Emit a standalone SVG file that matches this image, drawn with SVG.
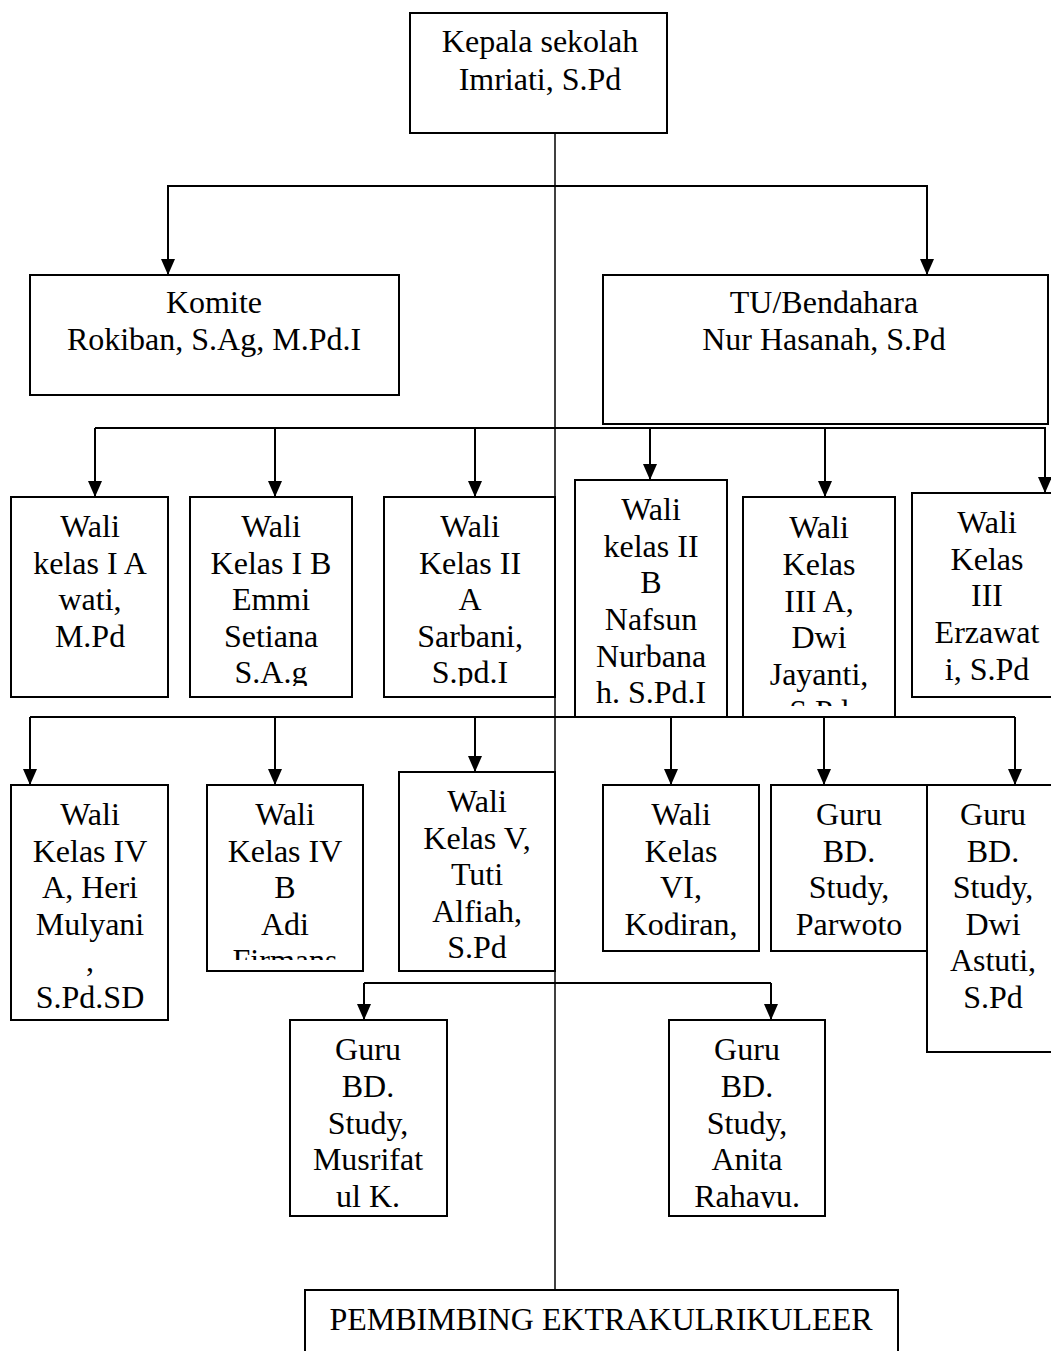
<svg xmlns="http://www.w3.org/2000/svg" width="1051" height="1351" viewBox="0 0 1051 1351">
<style>
.box{fill:#fff;stroke:#000;stroke-width:2}
text{font-family:"Liberation Serif","Times New Roman",serif;font-size:32px;fill:#000;text-anchor:middle}
.c{fill:none;stroke:#000;stroke-width:2}
.a{fill:none;stroke:#000;stroke-width:2;marker-end:url(#ah)}
.m{fill:none;stroke:#000;stroke-width:1.5}
</style>
<defs>
<marker id="ah" viewBox="0 0 16 14" refX="16" refY="7" markerWidth="16" markerHeight="14" markerUnits="userSpaceOnUse" orient="auto"><path d="M0,0 L16,7 L0,14 z" fill="#000"/></marker>
<clipPath id="k12"><rect x="190" y="497" width="162" height="189"/></clipPath>
<clipPath id="k13"><rect x="384" y="497" width="171" height="189"/></clipPath>
<clipPath id="k14"><rect x="575" y="480" width="152" height="226"/></clipPath>
<clipPath id="k15"><rect x="743" y="497" width="152" height="209"/></clipPath>
<clipPath id="k22"><rect x="207" y="785" width="156" height="175"/></clipPath>
<clipPath id="k32"><rect x="669" y="1020" width="156" height="188"/></clipPath>
</defs>
<g id="kepala"><rect class="box" x="410" y="13" width="257" height="120"/><text x="540" y="52">Kepala sekolah</text><text x="540" y="90">Imriati, S.Pd</text></g>
<g id="komite"><rect class="box" x="30" y="275" width="369" height="120"/><text x="214" y="313">Komite</text><text x="214" y="350">Rokiban, S.Ag, M.Pd.I</text></g>
<g id="tu"><rect class="box" x="603" y="275" width="445" height="149"/><text x="824" y="313">TU/Bendahara</text><text x="824" y="350">Nur Hasanah, S.Pd</text></g>
<g id="w1a"><rect class="box" x="11" y="497" width="157" height="200"/><text x="90" y="537">Wali</text><text x="90" y="574">kelas I A</text><text x="90" y="610">wati,</text><text x="90" y="647">M.Pd</text></g>
<g id="w1b"><rect class="box" x="190" y="497" width="162" height="200"/><g clip-path="url(#k12)"><text x="271" y="537">Wali</text><text x="271" y="574">Kelas I B</text><text x="271" y="610">Emmi</text><text x="271" y="647">Setiana</text><text x="271" y="683">S.A.g</text></g></g>
<g id="w2a"><rect class="box" x="384" y="497" width="171" height="200"/><g clip-path="url(#k13)"><text x="470" y="537">Wali</text><text x="470" y="574">Kelas II</text><text x="470" y="610">A</text><text x="470" y="647">Sarbani,</text><text x="470" y="683">S.pd.I</text></g></g>
<g id="w2b"><rect class="box" x="575" y="480" width="152" height="237"/><g clip-path="url(#k14)"><text x="651" y="520">Wali</text><text x="651" y="557">kelas II</text><text x="651" y="593">B</text><text x="651" y="630">Nafsun</text><text x="651" y="667">Nurbana</text><text x="651" y="703">h. S.Pd.I</text></g></g>
<g id="w3a"><rect class="box" x="743" y="497" width="152" height="220"/><g clip-path="url(#k15)"><text x="819" y="538">Wali</text><text x="819" y="575">Kelas</text><text x="819" y="612">III A,</text><text x="819" y="648">Dwi</text><text x="819" y="685">Jayanti,</text><text x="819" y="722">S.Pd</text></g></g>
<g id="w3"><rect class="box" x="912" y="493" width="145" height="204"/><text x="987" y="533">Wali</text><text x="987" y="570">Kelas</text><text x="987" y="606">III</text><text x="987" y="643">Erzawat</text><text x="987" y="680">i, S.Pd</text></g>
<g id="w4a"><rect class="box" x="11" y="785" width="157" height="235"/><text x="90" y="825">Wali</text><text x="90" y="862">Kelas IV</text><text x="90" y="898">A, Heri</text><text x="90" y="935">Mulyani</text><text x="90" y="971">,</text><text x="90" y="1008">S.Pd.SD</text></g>
<g id="w4b"><rect class="box" x="207" y="785" width="156" height="186"/><g clip-path="url(#k22)"><text x="285" y="825">Wali</text><text x="285" y="862">Kelas IV</text><text x="285" y="898">B</text><text x="285" y="935">Adi</text><text x="285" y="971">Firmans</text></g></g>
<g id="w5"><rect class="box" x="399" y="772" width="156" height="199"/><text x="477" y="812">Wali</text><text x="477" y="849">Kelas V,</text><text x="477" y="885">Tuti</text><text x="477" y="922">Alfiah,</text><text x="477" y="958">S.Pd</text></g>
<g id="w6"><rect class="box" x="603" y="785" width="156" height="166"/><text x="681" y="825">Wali</text><text x="681" y="862">Kelas</text><text x="681" y="898">VI,</text><text x="681" y="935">Kodiran,</text></g>
<g id="bd1"><rect class="box" x="771" y="785" width="156" height="166"/><text x="849" y="825">Guru</text><text x="849" y="862">BD.</text><text x="849" y="898">Study,</text><text x="849" y="935">Parwoto</text></g>
<g id="bd2"><rect class="box" x="927" y="785" width="130" height="267"/><text x="993" y="825">Guru</text><text x="993" y="862">BD.</text><text x="993" y="898">Study,</text><text x="993" y="935">Dwi</text><text x="993" y="971">Astuti,</text><text x="993" y="1008">S.Pd</text></g>
<g id="bd3"><rect class="box" x="290" y="1020" width="157" height="196"/><text x="368" y="1060">Guru</text><text x="368" y="1097">BD.</text><text x="368" y="1134">Study,</text><text x="368" y="1170">Musrifat</text><text x="368" y="1207">ul K.</text></g>
<g id="bd4"><rect class="box" x="669" y="1020" width="156" height="196"/><g clip-path="url(#k32)"><text x="747" y="1060">Guru</text><text x="747" y="1097">BD.</text><text x="747" y="1134">Study,</text><text x="747" y="1170">Anita</text><text x="747" y="1207">Rahayu.</text></g></g>
<g id="ekstra"><rect class="box" x="305" y="1290" width="593" height="80"/><text x="601" y="1330">PEMBIMBING EKTRAKULRIKULEER</text></g>
<g id="connectors">
<path class="m" d="M555,133 V1290"/>
<path class="a" d="M555,186 H168 V275"/>
<path class="a" d="M555,186 H927 V275"/>
<path class="c" d="M95,428 H1046"/>
<path class="a" d="M95,428 V497"/>
<path class="a" d="M275,428 V497"/>
<path class="a" d="M475,428 V497"/>
<path class="a" d="M650,428 V480"/>
<path class="a" d="M825,428 V497"/>
<path class="a" d="M1045,428 V493"/>
<path class="c" d="M30,717 H1015"/>
<path class="a" d="M30,717 V785"/>
<path class="a" d="M275,717 V785"/>
<path class="a" d="M475,717 V772"/>
<path class="a" d="M671,717 V785"/>
<path class="a" d="M824,717 V785"/>
<path class="a" d="M1015,717 V785"/>
<path class="c" d="M364,983 H771"/>
<path class="a" d="M364,983 V1020"/>
<path class="a" d="M771,983 V1020"/>
</g>
</svg>
